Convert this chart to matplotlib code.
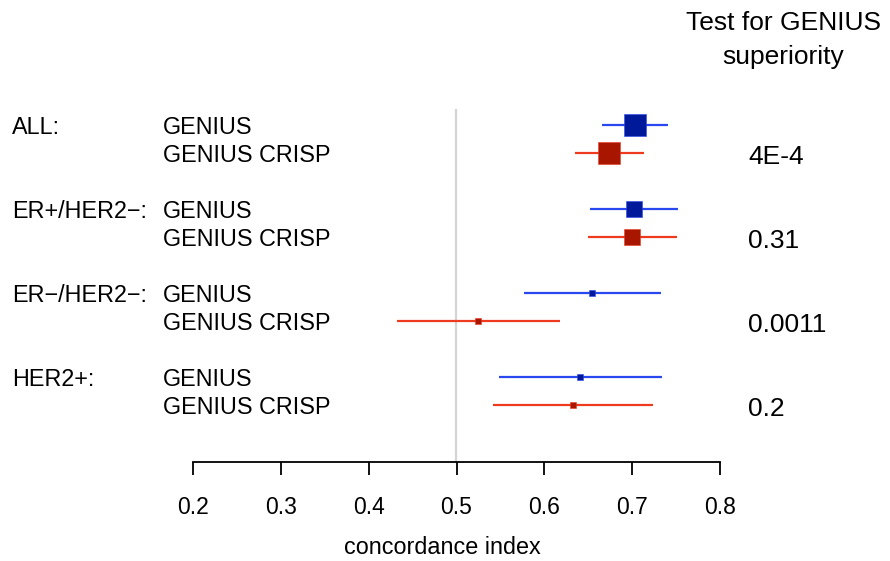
import numpy as np
import matplotlib
matplotlib.use("Agg")
import matplotlib.pyplot as plt

plt.rcParams['font.family'] = ['Liberation Sans', 'DejaVu Sans']

# data
groups = ['ALL:', 'ER+/HER2\u2212:', 'ER\u2212/HER2\u2212:', 'HER2+:']
methods = ['GENIUS', 'GENIUS CRISP']
pvalues = ['4E-4', '0.31', '0.0011', '0.2']

# concordance index estimate and 95% CI, per group: [GENIUS, GENIUS CRISP]
cindex = [[0.703, 0.674], [0.702, 0.700], [0.654, 0.525], [0.641, 0.633]]
ci_low = [[0.666, 0.635], [0.652, 0.650], [0.577, 0.432], [0.548, 0.542]]
ci_high = [[0.741, 0.713], [0.752, 0.751], [0.733, 0.618], [0.734, 0.724]]
box_size = [15.8, 11.5, 3.8, 3.8]   # marker size (pt) per group

line_cols = ['#2a48f0', '#ee3a1e']
box_cols = ['#00189a', '#a81600']

W, H = 890, 561
fig = plt.figure(figsize=(W / 100, H / 100), dpi=100)
# axes spans 0.2..0.8 horizontally, axis line at y=462px
ax = fig.add_axes([193 / W, (H - 462) / H, 527 / W, 462 / H])
ax.set_xlim(0.2, 0.8)
# y in row units: row 0 at 125px from top, 28px per row
ybot = (462 - 125) / 28
ax.set_ylim(ybot, -125 / 28)

for s in ['top', 'left', 'right']:
    ax.spines[s].set_visible(False)
ax.spines['bottom'].set_linewidth(1.3)
ax.set_yticks([])
ticks = np.arange(0.2, 0.81, 0.1)
ax.set_xticks(ticks)
ax.set_xticklabels(['%.1f' % v for v in ticks])
ax.tick_params(axis='x', length=9.5, width=1.3, pad=15, labelsize=16.5)

ax.plot([0.5, 0.5], [-0.54, ybot], color='#d4d4d4', lw=1.6,
        zorder=0, clip_on=False)


def px(x):
    # figure pixel x -> data x
    return ax.transData.inverted().transform(
        fig.transFigure.transform((x / W, 0)))[0]


for g in range(len(groups)):
    yt = g * 3
    for k in range(2):
        y = yt + k
        ax.plot([ci_low[g][k], ci_high[g][k]], [y, y], color=line_cols[k],
                lw=1.6, solid_capstyle='butt', zorder=2)
        ax.plot(cindex[g][k], y, marker='s', ms=box_size[g], color=box_cols[k],
                mec=line_cols[k], mew=0.4, zorder=3)
        ax.text(px(163), y, methods[k], fontsize=16.8, va='center_baseline',
                ha='left', clip_on=False)
    ax.text(px(12), yt, groups[g], fontsize=16.8, va='center_baseline',
            ha='left', clip_on=False)
    ax.text(px(748), yt + 1.05, pvalues[g], fontsize=19,
            va='center_baseline', ha='left', clip_on=False)

fig.text(783 / W, 1 - 40 / H, 'Test for GENIUS\nsuperiority', fontsize=19,
         ha='center', va='center', linespacing=1.5)
fig.text(442 / W, 1 - 548 / H, 'concordance index', fontsize=16.8,
         ha='center', va='center')

fig.savefig('out.png', dpi=100)
